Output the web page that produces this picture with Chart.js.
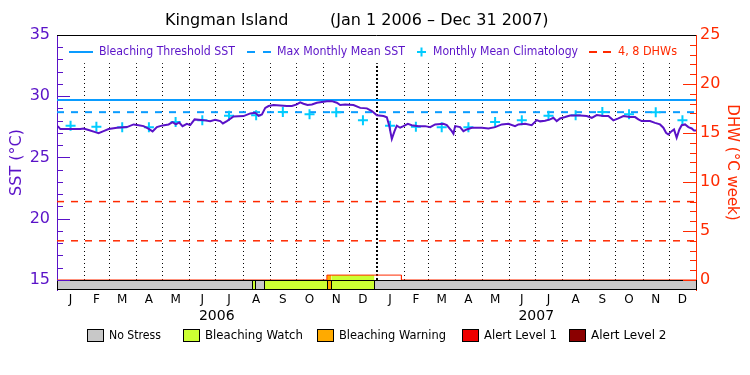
<!DOCTYPE html>
<html>
<head>
<meta charset="utf-8">
<script src="https://cdn.jsdelivr.net/npm/chart.js@4.4.0/dist/chart.umd.min.js"></script>
<style>
  html, body { margin: 0; padding: 0; background: #fff; }
</style>
</head>
<body>
<canvas id="myChart" width="750" height="375"></canvas>
<script>
// daily SST (day 0 = Jan 1 2006)
const sstDays = [0, 1.9, 3.8, 26.6, 30.4, 36.1, 43.7, 47.5, 53.2, 59, 68.5, 79.9, 87.5, 93.2, 98.9, 103.9, 109.2, 114.1, 120.6, 127.5,
  132, 135.8, 139.6, 143.4, 148.4, 152.2, 157.2, 167.4, 175, 180.7, 186.5, 189.5, 194.1, 201.7, 213.1, 220.8, 226.5, 230.3, 234.1, 237.9,
  241.7, 247.4, 262.6, 268.3, 274, 277.8, 281.6, 286.2, 291.2, 296.9, 308.3, 314, 319.7, 323.5, 329.2, 338.7, 346.4, 354, 359.7, 365.4,
  373, 376.8, 379.5, 382.5, 385.6, 388.2, 392, 395.8, 400.8, 405.3, 413, 420.6, 426.3, 432, 441.5, 445.3, 451, 452.9, 454.8, 460.5,
  464.3, 468.1, 473.9, 485.3, 492.9, 500.5, 508.1, 515.7, 523.3, 527.1, 534.8, 542.3, 548.1, 551.9, 557.6, 563.3, 567.1, 570.9, 574.7, 580.4,
  586.2, 597.6, 605.2, 610.9, 616.6, 624.2, 629.9, 635.6, 641.3, 647.1, 654.7, 660.4, 664.2, 667.9, 677.5, 683.2, 688.9, 692.7, 695.8, 698.4,
  702.2, 704.9, 707.9, 711, 713.7, 717.5, 721.3, 725.1, 727.7, 730];
const sstVals = [27.58, 27.48, 27.32, 27.32, 27.37, 27.24, 27.07, 26.99, 27.15, 27.32, 27.43, 27.48, 27.7, 27.64, 27.56, 27.37, 27.13, 27.48, 27.62, 27.7,
  27.89, 27.7, 27.86, 27.56, 27.75, 27.64, 28.11, 28.05, 27.97, 28.08, 27.97, 27.78, 27.97, 28.35, 28.38, 28.6, 28.65, 28.4, 28.52, 29.05,
  29.2, 29.28, 29.2, 29.2, 29.33, 29.5, 29.39, 29.28, 29.33, 29.47, 29.6, 29.6, 29.47, 29.28, 29.33, 29.28, 29.05, 29.01, 28.79, 28.45,
  28.38, 28.28, 27.6, 26.52, 27.15, 27.6, 27.43, 27.56, 27.75, 27.64, 27.56, 27.56, 27.48, 27.7, 27.75, 27.64, 27.15, 26.94, 27.56, 27.48,
  27.15, 27.29, 27.43, 27.43, 27.37, 27.48, 27.7, 27.75, 27.56, 27.7, 27.75, 27.64, 28.05, 27.95, 28.0, 28.11, 28.24, 27.97, 28.19, 28.3,
  28.43, 28.43, 28.38, 28.24, 28.46, 28.38, 28.38, 28.03, 28.19, 28.38, 28.3, 28.3, 28.11, 27.97, 27.97, 27.83, 27.7, 27.43, 27.02, 26.88,
  27.15, 27.29, 26.61, 27.29, 27.64, 27.7, 27.48, 27.37, 27.21, 27.2];

// monthly mean climatology, Jan..Dec
const climatology = [27.6, 27.5, 27.47, 27.47, 27.9, 28.04, 28.4, 28.44, 28.71, 28.53, 28.69, 28.05];
const thresholdSst = 29.7;
const mmmSst = 28.7;
const dhwLevels = [4, 8];

// degree heating weeks
const dhwDays = [0, 308.3, 308.3, 393.5, 393.5, 730];
const dhwVals = [0, 0, 0.5, 0.5, 0, 0];

// stress level periods (0 none, 1 watch, 2 warning, 3 alert 1, 4 alert 2)
const stressStart = [0, 222.8, 225.7, 236, 308.3, 313.3, 362.7];
const stressEnd = [222.8, 225.7, 236, 308.3, 313.3, 362.7, 730];
const stressLevel = [0, 1, 0, 1, 2, 1, 0];
const stressNames = ['No Stress', 'Bleaching Watch', 'Bleaching Warning', 'Alert Level 1', 'Alert Level 2'];
const stressColors = ['#c8c8c8', '#ccff33', '#ffaa00', '#ee0000', '#8b0000'];

const monthLetters = ['J', 'F', 'M', 'A', 'M', 'J', 'J', 'A', 'S', 'O', 'N', 'D'];
const years = [2006, 2007];
const sstTicks = [15, 20, 25, 30, 35];
const dhwTicks = [0, 5, 10, 15, 20, 25];

const PURPLE = '#5a12c8';
const RED = '#ff2a00';
const BLUE = '#0a9cff';
const CYAN = '#00ccff';
const FONT = 'DejaVu Sans';

const day0 = Date.UTC(2006, 0, 1);
function dayOf(y, m, d) { return (Date.UTC(y, m, d) - day0) / 86400000; }
const xMax = dayOf(2008, 0, 1);
const monthStarts = [], monthMids = [], monthLabels = [];
years.forEach(y => {
  for (let m = 0; m < 12; m++) {
    const s = dayOf(y, m, 1), e = dayOf(y, m + 1, 1);
    monthStarts.push(s);
    monthMids.push((s + e) / 2);
    monthLabels.push(monthLetters[m]);
  }
});
const yearMids = years.map(y => (dayOf(y, 0, 1) + dayOf(y + 1, 0, 1)) / 2);

const climPoints = [];
years.forEach((y, yi) => climatology.forEach((v, m) => climPoints.push({x: monthMids[yi * 12 + m], y: v})));

function txt(ctx, s, x, y, w) {
  if (w && ctx.measureText(s).width > w) ctx.fillText(s, x, y, w);
  else ctx.fillText(s, x, y);
}

const decor = {
  id: 'decor',
  beforeDatasetsDraw(chart) {
    const {ctx, scales: {x, y}} = chart;
    ctx.save();
    ctx.strokeStyle = '#000';
    monthStarts.forEach(d => {
      if (d <= 0) return;
      const isYear = d === dayOf(2007, 0, 1);
      const px = Math.round(x.getPixelForValue(d)) + (isYear ? 0 : 0.5);
      ctx.lineWidth = isYear ? 2 : 1;
      ctx.setLineDash(isYear ? [2, 2] : [1, 3]);
      ctx.beginPath();
      ctx.moveTo(px, y.getPixelForValue(15));
      ctx.lineTo(px, y.getPixelForValue(32.7));
      ctx.stroke();
    });
    ctx.restore();
  },
  afterDatasetsDraw(chart) {
    const {ctx, chartArea: a, scales: {x, y, y2}} = chart;
    ctx.save();
    // stress bar
    const top = Math.round(y.getPixelForValue(15)) + 0.5;
    const bot = Math.round(a.bottom) - 0.5;
    ctx.lineWidth = 1;
    stressStart.forEach((s, i) => {
      const x0 = Math.round(x.getPixelForValue(s)) + 0.5;
      const x1 = Math.round(x.getPixelForValue(stressEnd[i])) + 0.5;
      ctx.fillStyle = stressColors[stressLevel[i]];
      ctx.fillRect(x0, top, x1 - x0, bot - top);
      ctx.strokeStyle = '#000';
      ctx.strokeRect(x0, top, x1 - x0, bot - top);
    });
    // inward ticks
    ctx.strokeStyle = PURPLE;
    for (let v = 15; v <= 35; v++) {
      const py = Math.round(y.getPixelForValue(v)) + 0.5;
      ctx.beginPath();
      ctx.moveTo(a.left, py);
      ctx.lineTo(a.left + (v % 5 === 0 ? 13 : 6), py);
      ctx.stroke();
    }
    ctx.strokeStyle = RED;
    for (let v = 0; v <= 25; v++) {
      const py = Math.round(y2.getPixelForValue(v)) + 0.5;
      ctx.beginPath();
      ctx.moveTo(a.right, py);
      ctx.lineTo(a.right - (v % 5 === 0 ? 13 : 6), py);
      ctx.stroke();
    }
    // top frame
    ctx.strokeStyle = '#000';
    ctx.beginPath();
    ctx.moveTo(a.left, Math.round(a.top) + 0.5);
    ctx.lineTo(a.right, Math.round(a.top) + 0.5);
    ctx.stroke();
    ctx.restore();
  },
  afterDraw(chart) {
    const {ctx} = chart;
    ctx.save();
    // title
    ctx.fillStyle = '#000';
    ctx.font = '16px ' + FONT;
    ctx.textBaseline = 'middle';
    txt(ctx, 'Kingman Island', 165, 21, 126);
    txt(ctx, '(Jan 1 2006 \u2013 Dec 31 2007)', 330, 21, 256);

    // legend inside the plot
    const ly = 52;
    ctx.font = '12px ' + FONT;
    ctx.lineWidth = 2;
    ctx.strokeStyle = BLUE;
    ctx.beginPath(); ctx.moveTo(69, ly); ctx.lineTo(93, ly); ctx.stroke();
    ctx.fillStyle = PURPLE;
    txt(ctx, 'Bleaching Threshold SST', 99, ly, 136);
    ctx.setLineDash([8, 8]);
    ctx.beginPath(); ctx.moveTo(247, ly); ctx.lineTo(272, ly); ctx.stroke();
    txt(ctx, 'Max Monthly Mean SST', 277, ly, 128);
    ctx.setLineDash([]);
    ctx.strokeStyle = CYAN;
    ctx.beginPath(); ctx.moveTo(417, ly); ctx.lineTo(426, ly); ctx.moveTo(421.5, ly - 4.5); ctx.lineTo(421.5, ly + 4.5); ctx.stroke();
    txt(ctx, 'Monthly Mean Climatology', 433, ly, 145);
    ctx.strokeStyle = RED;
    ctx.setLineDash([8, 6]);
    ctx.beginPath(); ctx.moveTo(589, ly); ctx.lineTo(612, ly); ctx.stroke();
    ctx.setLineDash([]);
    ctx.fillStyle = RED;
    txt(ctx, '4, 8 DHWs', 618, ly, 59);

    // stress legend
    const boxX = [87, 183, 317, 462, 569];
    const textW = [52, 98, 107, 73, 77];
    ctx.font = '12px ' + FONT;
    ctx.lineWidth = 1;
    stressNames.forEach((n, i) => {
      ctx.fillStyle = stressColors[i];
      ctx.fillRect(boxX[i] + 0.5, 329.5, 16, 12);
      ctx.strokeStyle = '#000';
      ctx.strokeRect(boxX[i] + 0.5, 329.5, 16, 12);
      ctx.fillStyle = '#000';
      txt(ctx, n, boxX[i] + 22, 336, textW[i]);
    });
    ctx.restore();
  }
};

const ctx = document.getElementById('myChart').getContext('2d');
new Chart(ctx, {
  type: 'line',
  data: {
    datasets: [
      {
        label: 'SST',
        data: sstDays.map((d, i) => ({x: d, y: sstVals[i]})),
        borderColor: PURPLE, borderWidth: 2, pointRadius: 0, tension: 0,
        yAxisID: 'y'
      },
      {
        label: 'Monthly Mean Climatology',
        data: climPoints,
        showLine: false, pointStyle: 'cross', pointRadius: 5, borderWidth: 2,
        borderColor: CYAN, yAxisID: 'y'
      },
      {
        label: 'Bleaching Threshold SST',
        data: [{x: 0, y: thresholdSst}, {x: xMax, y: thresholdSst}],
        borderColor: BLUE, borderWidth: 2, pointRadius: 0, yAxisID: 'y'
      },
      {
        label: 'Max Monthly Mean SST',
        data: [{x: 0, y: mmmSst}, {x: xMax, y: mmmSst}],
        borderColor: BLUE, borderWidth: 2, borderDash: [7, 7], pointRadius: 0, yAxisID: 'y'
      },
      ...dhwLevels.map(l => ({
        label: l + ' DHW',
        data: [{x: 0, y: l}, {x: xMax, y: l}],
        borderColor: RED, borderWidth: 1.5, borderDash: [7, 7], pointRadius: 0, yAxisID: 'y2'
      })),
      {
        label: 'DHW',
        data: dhwDays.map((d, i) => ({x: d, y: dhwVals[i]})),
        borderColor: RED, borderWidth: 1, pointRadius: 0, yAxisID: 'y2'
      },
      {
        label: 'DHW warning',
        data: [{x: stressStart[4], y: dhwVals[2]}, {x: stressEnd[4], y: dhwVals[2]}],
        borderWidth: 0, pointRadius: 0, fill: 'origin', backgroundColor: stressColors[2], yAxisID: 'y2'
      },
      {
        label: 'DHW watch',
        data: [{x: stressStart[5], y: dhwVals[2]}, {x: stressEnd[5], y: dhwVals[2]}],
        borderWidth: 0, pointRadius: 0, fill: 'origin', backgroundColor: stressColors[1], yAxisID: 'y2'
      }
    ]
  },
  options: {
    responsive: false,
    animation: false,
    devicePixelRatio: 1,
    layout: {padding: {top: 35, left: 0, right: 0, bottom: 0}},
    plugins: {legend: {display: false}, tooltip: {enabled: false}},
    scales: {
      x: {
        type: 'linear', position: 'bottom', min: 0, max: xMax, weight: 0,
        afterBuildTicks: s => { s.ticks = monthMids.map(v => ({value: v})); },
        afterFit: s => { s.height = 18; },
        ticks: {
          callback: (v, i) => monthLabels[i], autoSkip: false, maxRotation: 0,
          color: '#000', font: {family: FONT, size: 12}, padding: 3
        },
        grid: {display: false, drawTicks: false},
        border: {display: false}
      },
      xYear: {
        type: 'linear', position: 'bottom', min: 0, max: xMax, weight: 1,
        afterBuildTicks: s => { s.ticks = yearMids.map(v => ({value: v})); },
        afterFit: s => { s.height = 67; },
        ticks: {
          callback: (v, i) => String(years[i]), autoSkip: false, maxRotation: 0,
          color: '#000', font: {family: FONT, size: 14}, padding: 0
        },
        grid: {display: false, drawTicks: false},
        border: {display: false}
      },
      y: {
        type: 'linear', position: 'left', min: 14.183, max: 35,
        afterBuildTicks: s => { s.ticks = sstTicks.map(v => ({value: v})); },
        afterFit: s => { s.width = 57; },
        ticks: {color: PURPLE, font: {family: FONT, size: 16}, padding: 7},
        grid: {display: false, drawTicks: false},
        border: {color: PURPLE, width: 1},
        title: {display: true, text: 'SST (\u00b0C)', color: PURPLE, font: {family: FONT, size: 16}, padding: {top: 7, bottom: 0}}
      },
      y2: {
        type: 'linear', position: 'right', min: -1.021, max: 25,
        afterBuildTicks: s => { s.ticks = dhwTicks.map(v => ({value: v})); },
        afterFit: s => { s.width = 54; },
        ticks: {color: RED, font: {family: FONT, size: 16}, padding: 4},
        grid: {display: false, drawTicks: false},
        border: {color: RED, width: 1},
        title: {display: true, text: 'DHW (\u00b0C week)', color: RED, font: {family: FONT, size: 15}, padding: {top: 9, bottom: 0}}
      }
    }
  },
  plugins: [decor]
});
</script>
</body>
</html>
